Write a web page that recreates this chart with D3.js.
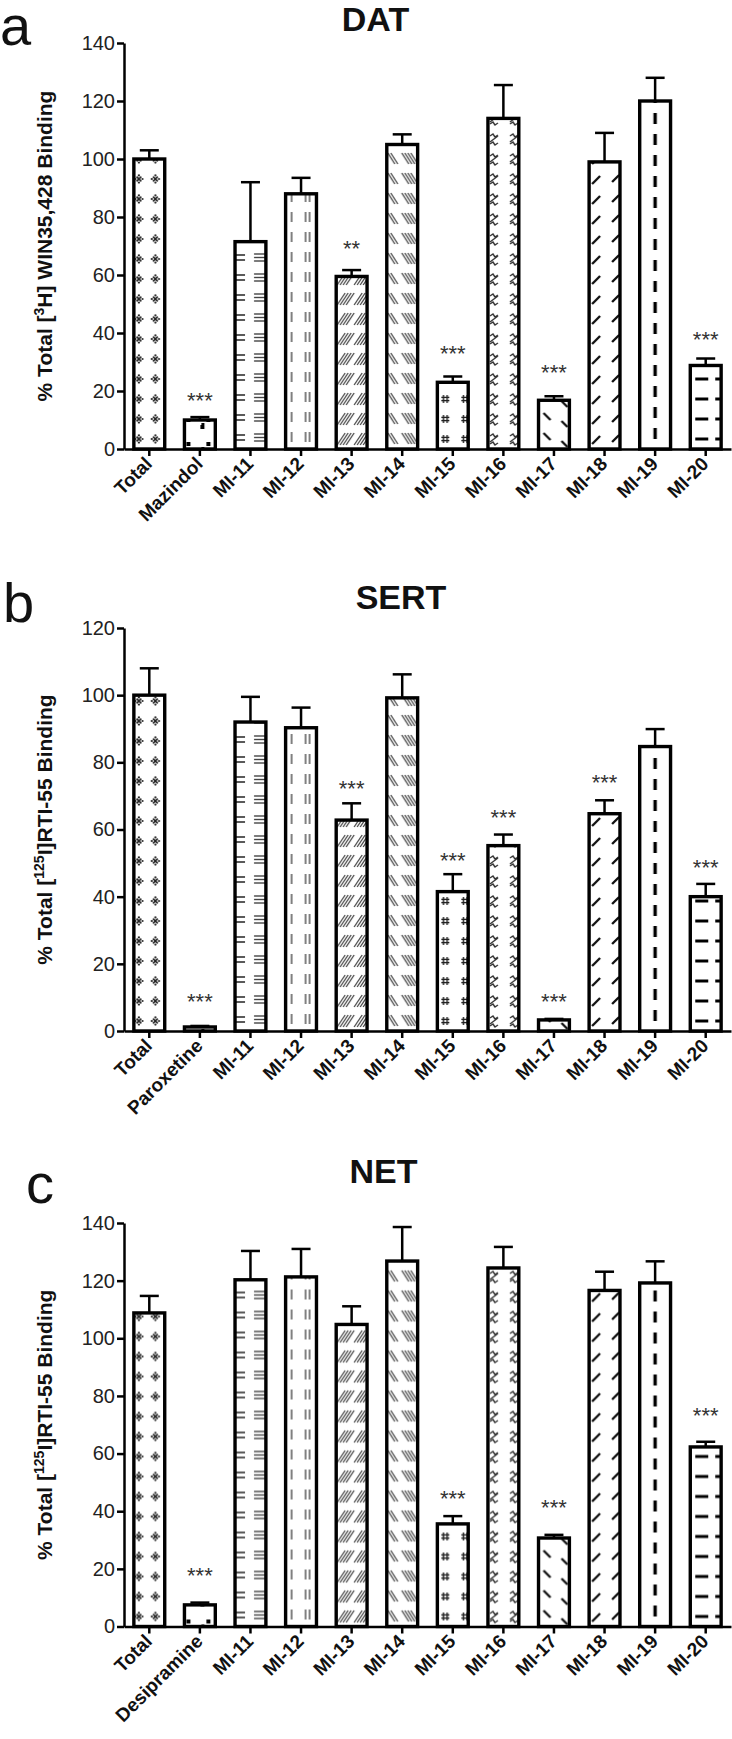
<!DOCTYPE html>
<html>
<head>
<meta charset="utf-8">
<script src="https://cdnjs.cloudflare.com/ajax/libs/d3/7.8.5/d3.min.js"></script>
<style>
body { margin: 0; background: #fff; }
svg { display: block; font-family: Arial, "Liberation Sans", Helvetica, sans-serif; }
</style>
</head>
<body>
<svg id="chart" width="732" height="1739"></svg>
<script>
// ---- data ----
var compounds = ['MI-11', 'MI-12', 'MI-13', 'MI-14', 'MI-15', 'MI-16', 'MI-17', 'MI-18', 'MI-19', 'MI-20'];
var categoriesDAT = ['Total', 'Mazindol'].concat(compounds);
var categoriesSERT = ['Total', 'Paroxetine'].concat(compounds);
var categoriesNET = ['Total', 'Desipramine'].concat(compounds);

var valuesDAT = [100, 10, 71.5, 88, 59.5, 105, 23, 114, 16.8, 99, 120, 28.8];
var errorsDAT = [3, 1, 20.5, 5.5, 2.2, 3.5, 2, 11.5, 1.4, 10, 8, 2.4];
var starsDAT = ['', '***', '', '', '**', '', '***', '', '***', '', '', '***'];
var starLevelsDAT = [null, 18.6, null, null, 71, null, 34.8, null, 28.3, null, null, 39.7];
var ticksDAT = [0, 20, 40, 60, 80, 100, 120, 140];

var valuesSERT = [100, 1.2, 92, 90.3, 62.8, 99.2, 41.5, 55.2, 3.3, 64.7, 84.7, 40];
var errorsSERT = [8, 0.3, 7.5, 6, 5, 7, 5.2, 3.3, 0.3, 4, 5.2, 3.8];
var starsSERT = ['', '***', '', '', '***', '', '***', '***', '***', '***', '', '***'];
var starLevelsSERT = [null, 10.4, null, null, 73.9, null, 52.4, 65.2, 10.4, 75.6, null, 50.3];
var ticksSERT = [0, 20, 40, 60, 80, 100, 120];

var valuesNET = [108.8, 7.5, 120.3, 121.3, 104.8, 126.8, 35.6, 124.4, 30.7, 116.6, 119.2, 62.3];
var errorsNET = [5.9, 0.8, 10, 9.7, 6.3, 11.8, 2.7, 7.3, 1.1, 6.5, 7.5, 1.8];
var starsNET = ['', '***', '', '', '', '', '***', '', '***', '', '', '***'];
var starLevelsNET = [null, 19.6, null, null, null, null, 46.3, null, 43.2, null, null, 75.1];
var ticksNET = [0, 20, 40, 60, 80, 100, 120, 140];

// fill pattern of each bar, same order as the categories
var patternKeys = ['star', 'squares', 'eqs', 'vdash', 'fhatch', 'bhatch', 'hash', 'zig', 'bsdash', 'fsdash', 'cdash', 'hdash'];

var svg = d3.select('#chart');
var defs = svg.append('defs');
var xLeft = 124, xRight = 731;

var panels = [
	{ cats: categoriesDAT, values: valuesDAT, errors: errorsDAT, stars: starsDAT, starLevels: starLevelsDAT,
	  ticks: ticksDAT, yMax: 140, yTop: 43, yBottom: 449,
	  letter: 'a', letterX: 0, letterY: 45, title: 'DAT', titleX: 375.5, titleY: 31,
	  label: ['% Total [', '3', 'H] WIN35,428 Binding'] },
	{ cats: categoriesSERT, values: valuesSERT, errors: errorsSERT, stars: starsSERT, starLevels: starLevelsSERT,
	  ticks: ticksSERT, yMax: 120, yTop: 628, yBottom: 1031,
	  letter: 'b', letterX: 3, letterY: 622, title: 'SERT', titleX: 401, titleY: 609,
	  label: ['% Total [', '125', 'I]RTI-55 Binding'] },
	{ cats: categoriesNET, values: valuesNET, errors: errorsNET, stars: starsNET, starLevels: starLevelsNET,
	  ticks: ticksNET, yMax: 140, yTop: 1223, yBottom: 1626.5,
	  letter: 'c', letterX: 26, letterY: 1203, title: 'NET', titleX: 383.5, titleY: 1183,
	  label: ['% Total [', '125', 'I]RTI-55 Binding'] }
];

panels.forEach(drawPanel);

function drawPanel(cfg, pi) {
	var g = svg.append('g');
	var x = d3.scaleBand().domain(cfg.cats).range([xLeft, xRight]).paddingInner(0.39).paddingOuter(0.195);
	var y = d3.scaleLinear().domain([0, cfg.yMax]).range([cfg.yBottom, cfg.yTop]);
	var bw = x.bandwidth();

	// panel letter + title
	g.append('text').attr('x', cfg.letterX).attr('y', cfg.letterY)
		.attr('font-size', 56).attr('fill', '#111').text(cfg.letter);
	g.append('text').attr('x', cfg.titleX).attr('y', cfg.titleY).attr('text-anchor', 'middle')
		.attr('font-size', 34).attr('font-weight', 'bold').attr('fill', '#111').text(cfg.title);

	// y axis title with superscript
	var yc = (cfg.yTop + cfg.yBottom) / 2;
	var lab = g.append('text').attr('transform', 'translate(52,' + yc + ') rotate(-90)')
		.attr('text-anchor', 'middle').attr('font-size', 21).attr('font-weight', 'bold').attr('fill', '#111');
	lab.append('tspan').text(cfg.label[0]);
	lab.append('tspan').attr('font-size', 14).attr('dy', -8).text(cfg.label[1]);
	lab.append('tspan').attr('dy', 8).text(cfg.label[2]);

	// patterns, one per bar so the tiles line up with the bar
	cfg.cats.forEach(function(c, i) {
		addPattern('pat-' + pi + '-' + i, patternKeys[i], x(c), y(0), bw);
	});

	// error bars (upper only)
	var err = g.append('g').attr('stroke', '#000').attr('stroke-width', 2.5);
	cfg.cats.forEach(function(c, i) {
		var xc = x(c) + bw / 2;
		var top = y(cfg.values[i] + cfg.errors[i]);
		err.append('line').attr('x1', xc).attr('x2', xc).attr('y1', y(cfg.values[i])).attr('y2', top);
		err.append('line').attr('x1', xc - 9.5).attr('x2', xc + 9.5).attr('y1', top).attr('y2', top);
	});

	// bars
	g.selectAll('rect.bar').data(cfg.values).enter().append('rect')
		.attr('class', 'bar')
		.attr('x', function(d, i) { return x(cfg.cats[i]); })
		.attr('y', function(d) { return y(d); })
		.attr('width', bw)
		.attr('height', function(d) { return y(0) - y(d); })
		.attr('fill', function(d, i) { return 'url(#pat-' + pi + '-' + i + ')'; })
		.attr('stroke', '#000').attr('stroke-width', 3.4);

	// significance stars
	cfg.cats.forEach(function(c, i) {
		if (!cfg.stars[i]) return;
		g.append('text').attr('x', x(c) + bw / 2).attr('y', y(cfg.starLevels[i]) + 13)
			.attr('text-anchor', 'middle').attr('font-size', 22).attr('fill', '#333')
			.text(cfg.stars[i]);
	});

	// axes
	var yAxis = g.append('g').attr('transform', 'translate(' + xLeft + ',0)')
		.call(d3.axisLeft(y).tickValues(cfg.ticks).tickSize(7).tickSizeOuter(0).tickPadding(2));
	yAxis.selectAll('text').attr('font-size', 20).attr('fill', '#222').attr('font-family', null);
	var xAxis = g.append('g').attr('transform', 'translate(0,' + y(0) + ')')
		.call(d3.axisBottom(x).tickSize(7).tickSizeOuter(0));
	xAxis.selectAll('text').remove();
	g.selectAll('.domain, .tick line').attr('stroke', '#000').attr('stroke-width', 2.5);

	// rotated category labels
	cfg.cats.forEach(function(c) {
		var xc = x(c) + bw / 2;
		g.append('text').attr('transform', 'translate(' + (xc + 4) + ',' + (y(0) + 16) + ') rotate(-45)')
			.attr('text-anchor', 'end').attr('font-size', 19).attr('font-weight', 'bold').attr('fill', '#111')
			.text(c);
	});
}

/**
 * Build a fill pattern that tiles upward from the bar base.
 */
function addPattern(id, key, x0, y0, w) {
	var h = key === 'squares' ? 24 : (key === 'cdash' ? 21 : 20);
	var p = defs.append('pattern').attr('id', id).attr('patternUnits', 'userSpaceOnUse')
		.attr('x', x0).attr('y', y0).attr('width', w).attr('height', h);
	p.append('rect').attr('width', w).attr('height', h).attr('fill', '#fff');

	function line(x1, y1, x2, y2, col, sw) {
		p.append('line').attr('x1', x1).attr('y1', y1).attr('x2', x2).attr('y2', y2)
			.attr('stroke', col).attr('stroke-width', sw);
	}
	function starMark(cx, cy) {
		line(cx - 2.4, cy - 2.4, cx + 2.4, cy + 2.4, '#222', 1.5);
		line(cx - 2.4, cy + 2.4, cx + 2.4, cy - 2.4, '#222', 1.5);
		[[0, -3.6], [0, 3.6], [-3.6, 0], [3.6, 0]].forEach(function(o) {
			p.append('circle').attr('cx', cx + o[0]).attr('cy', cy + o[1]).attr('r', 1.1).attr('fill', '#222');
		});
	}
	function hashMark(cx, cy) {
		line(cx - 1.8, cy - 4, cx - 1.8, cy + 4, '#222', 1.4);
		line(cx + 1.8, cy - 4, cx + 1.8, cy + 4, '#222', 1.4);
		line(cx - 4, cy - 1.6, cx + 4, cy - 1.6, '#222', 1.4);
		line(cx - 4, cy + 1.6, cx + 4, cy + 1.6, '#222', 1.4);
	}
	function zigMark(cx, cy) {
		p.append('path').attr('d', 'M' + (cx - 4) + ',' + (cy - 3) + ' l3,-2 l2,3 l3,-2 M' + (cx - 4) + ',' + (cy + 3) + ' l8,-6 M' + (cx - 4) + ',' + (cy + 5) + ' l3,-2 l2,3 l3,-2')
			.attr('fill', 'none').attr('stroke', '#333').attr('stroke-width', 1.4);
	}
	var k;
	switch (key) {
		case 'star':
			starMark(5, 10); starMark(21.5, 10);
			break;
		case 'squares':
			p.append('rect').attr('x', 2).attr('y', 17).attr('width', 4).attr('height', 4).attr('fill', '#000');
			p.append('rect').attr('x', 22).attr('y', 17).attr('width', 4).attr('height', 4).attr('fill', '#000');
			p.append('rect').attr('x', 16).attr('y', 0).attr('width', 4).attr('height', 4).attr('fill', '#000');
			p.append('rect').attr('x', 17).attr('y', 22).attr('width', 3).attr('height', 2).attr('fill', '#000');
			break;
		case 'eqs':
			line(1, 6, 10, 6, '#222', 1.5); line(1, 11, 10, 11, '#222', 1.5);
			line(19, 5, 31, 5, '#444', 1.4); line(19, 8.5, 31, 8.5, '#444', 1.4); line(19, 12, 31, 12, '#444', 1.4);
			break;
		case 'vdash':
			line(6, 3, 6, 13, '#555', 1.5); line(20, 3, 20, 13, '#555', 1.5); line(24, 3, 24, 13, '#555', 1.5);
			break;
		case 'fhatch':
			for (k = 0; k < 4; k++) line(1 + k * 3, 16, 9 + k * 3, 4, '#444', 1.3);
			for (k = 0; k < 4; k++) line(18 + k * 3, 16, 26 + k * 3, 4, '#444', 1.3);
			break;
		case 'bhatch':
			for (k = 0; k < 2; k++) line(1 + k * 3, 4, 8 + k * 3, 15, '#444', 1.3);
			for (k = 0; k < 4; k++) line(15 + k * 3, 4, 22 + k * 3, 15, '#444', 1.3);
			break;
		case 'hash':
			hashMark(8, 10); hashMark(28, 10);
			break;
		case 'zig':
			zigMark(6, 10); zigMark(26, 10);
			break;
		case 'bsdash':
			line(5, 4, 12, 11, '#111', 2.4); line(23, 12, 29, 18, '#111', 2.4);
			break;
		case 'fsdash':
			line(3, 15, 11, 7, '#111', 2.4); line(23, 13, 30, 6, '#111', 2.4);
			break;
		case 'cdash':
			line(w / 2, 0, w / 2, 11, '#000', 3.4);
			break;
		case 'hdash':
			line(5, 10, 18, 10, '#000', 3); line(25, 10, 33, 10, '#000', 3);
			break;
	}
}
</script>
</body>
</html>
